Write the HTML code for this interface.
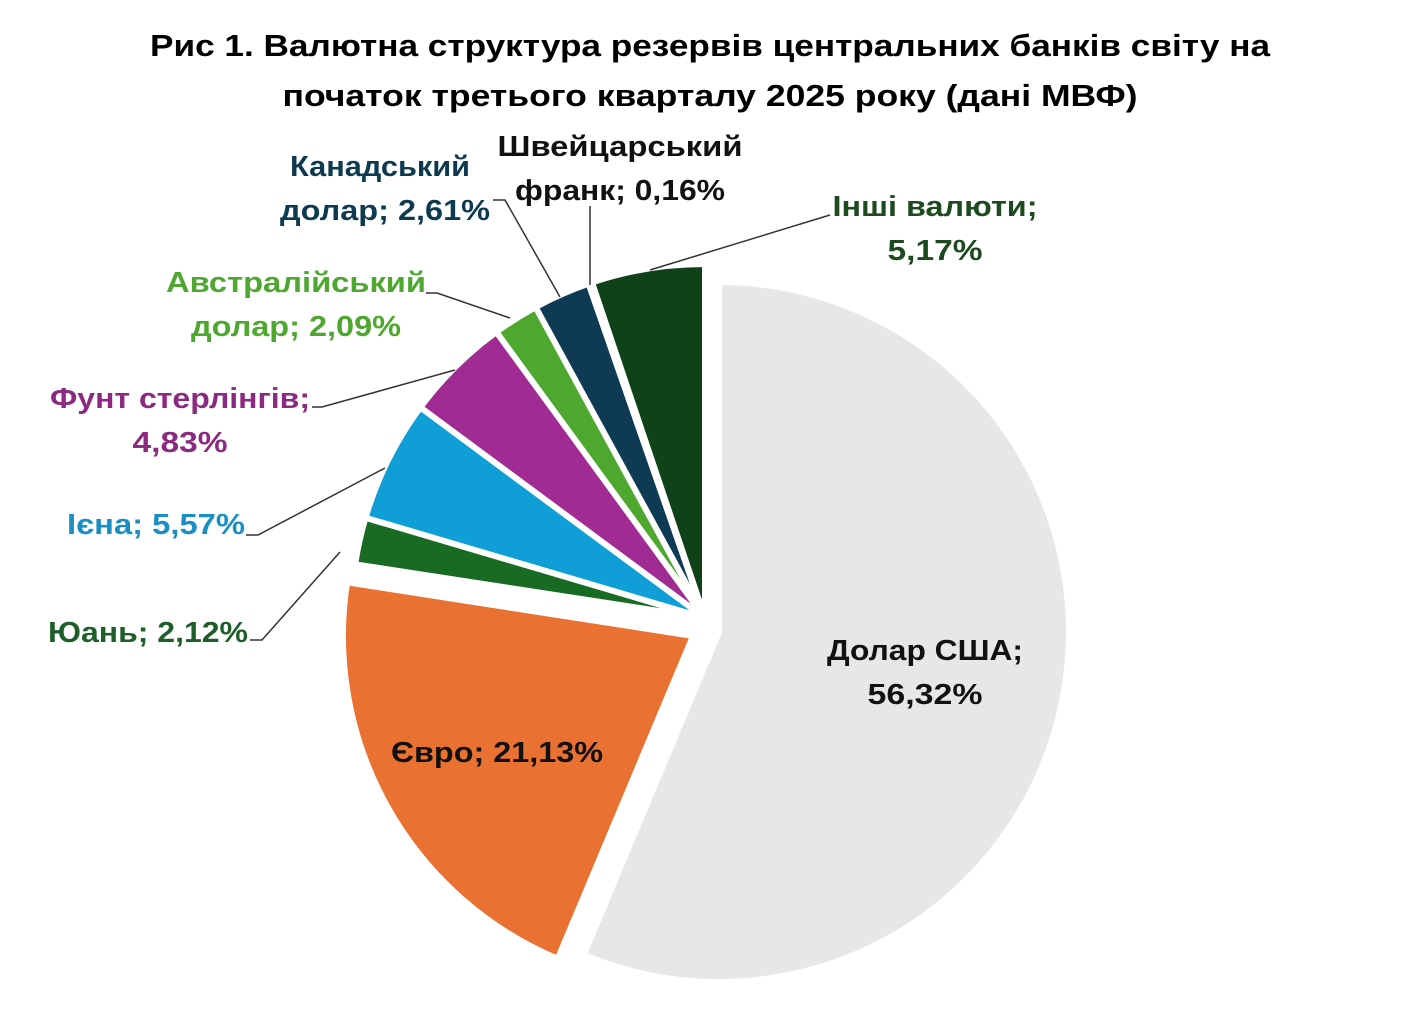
<!DOCTYPE html>
<html><head><meta charset="utf-8"><style>
html,body{margin:0;padding:0;background:#fff;}
svg{display:block;}
text{font-family:"Liberation Sans",sans-serif;font-weight:bold;}
</style></head><body>
<svg width="1422" height="1032" viewBox="0 0 1422 1032" xmlns="http://www.w3.org/2000/svg">
<rect width="1422" height="1032" fill="#fff"/>
<g stroke="#fff" stroke-width="6" stroke-linejoin="miter">
<path d="M719,632 L719,282 A350,350 0 1 1 583.7,954.8 Z" fill="#e7e7e7"/>
<path d="M693,636 L557.7,958.8 A350,350 0 0 1 347.1,582.3 Z" fill="#e97132"/>
<path d="M705,618 L355.2,564.3 A354,354 0 0 1 365.5,517.7 Z" fill="#196b24"/>
<path d="M705,618 L365.5,517.7 A354,354 0 0 1 420.4,407.4 Z" fill="#0f9ed5"/>
<path d="M705,618 L420.4,407.4 A354,354 0 0 1 496.4,332.0 Z" fill="#a02b93"/>
<path d="M705,618 L496.4,332.0 A354,354 0 0 1 535.6,307.1 Z" fill="#4ea72e"/>
<path d="M705,618 L535.6,307.1 A354,354 0 0 1 588.6,283.7 Z" fill="#0e3b53"/>
<path d="M705,618 L588.6,283.7 A354,354 0 0 1 592.0,282.5 Z" fill="#1a3a20"/>
<path d="M705,618 L592.0,282.5 A354,354 0 0 1 705,264 Z" fill="#0f4218"/>
</g>
<g font-size="31" fill="#000" text-anchor="middle">
<text x="710" y="56" textLength="1120" lengthAdjust="spacingAndGlyphs">Рис 1. Валютна структура резервів центральних банків світу на</text>
<text x="710" y="106" textLength="855" lengthAdjust="spacingAndGlyphs">початок третього кварталу 2025 року (дані МВФ)</text>
</g>
<g stroke="#333" stroke-width="1.5" fill="none">
<polyline points="493,200 505,200 560,297"/>
<polyline points="590,206 590,285"/>
<polyline points="830,215 650,270"/>
<polyline points="426,293 437,293 510,318"/>
<polyline points="312,407 322,407 455,370"/>
<polyline points="246,535 258,535 385,468"/>
<polyline points="250,640 262,640 340,552"/>
</g>
<g font-size="29" text-anchor="middle">
<text x="380" y="176" fill="#0e3a50" textLength="180" lengthAdjust="spacingAndGlyphs">Канадський</text>
<text x="385" y="220" fill="#0e3a50" textLength="210" lengthAdjust="spacingAndGlyphs">долар; 2,61%</text>
<text x="620" y="156" fill="#111" textLength="245" lengthAdjust="spacingAndGlyphs">Швейцарський</text>
<text x="620" y="200" fill="#111" textLength="210" lengthAdjust="spacingAndGlyphs">франк; 0,16%</text>
<text x="935" y="216" fill="#1e4a20" textLength="205" lengthAdjust="spacingAndGlyphs">Інші валюти;</text>
<text x="935" y="260" fill="#1e4a20" textLength="95" lengthAdjust="spacingAndGlyphs">5,17%</text>
<text x="296" y="292" fill="#4ea72e" textLength="260" lengthAdjust="spacingAndGlyphs">Австралійський</text>
<text x="296" y="336" fill="#4ea72e" textLength="210" lengthAdjust="spacingAndGlyphs">долар; 2,09%</text>
<text x="180" y="408" fill="#8b2a80" textLength="260" lengthAdjust="spacingAndGlyphs">Фунт стерлінгів;</text>
<text x="180" y="452" fill="#8b2a80" textLength="95" lengthAdjust="spacingAndGlyphs">4,83%</text>
<text x="156" y="534" fill="#1a8fc4" textLength="178" lengthAdjust="spacingAndGlyphs">Ієна; 5,57%</text>
<text x="148" y="642" fill="#1e5e2a" textLength="200" lengthAdjust="spacingAndGlyphs">Юань; 2,12%</text>
<text x="925" y="660" fill="#111" textLength="196" lengthAdjust="spacingAndGlyphs">Долар США;</text>
<text x="925" y="704" fill="#111" textLength="115" lengthAdjust="spacingAndGlyphs">56,32%</text>
<text x="497" y="762" fill="#111" textLength="212" lengthAdjust="spacingAndGlyphs">Євро; 21,13%</text>
</g>
</svg>
</body></html>
